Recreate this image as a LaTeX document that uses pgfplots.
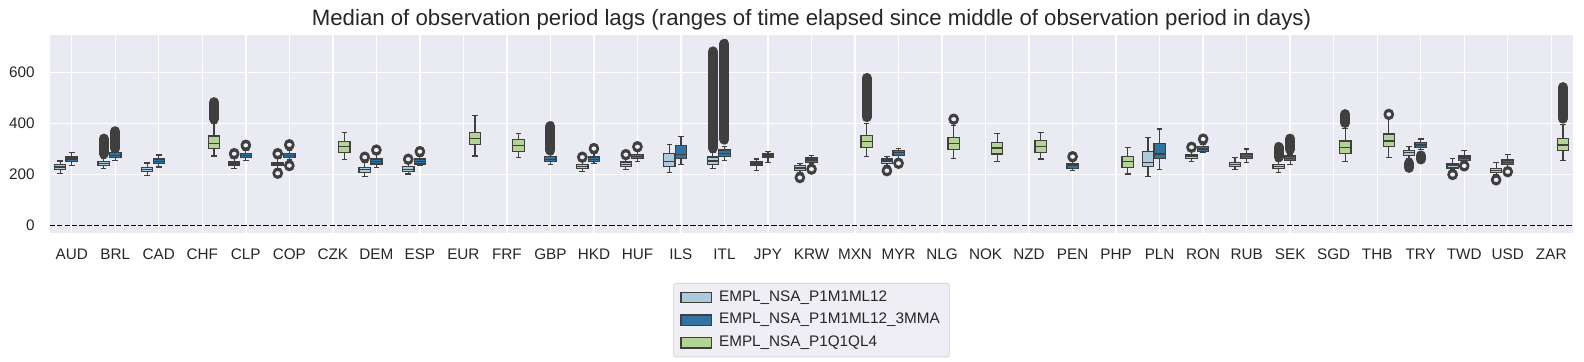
\documentclass[border=0pt]{standalone}
\usepackage{pgfplots}
\pgfplotsset{compat=1.18}
\usepackage{fontspec}
\setmainfont{Liberation Sans}
\definecolor{bgc}{HTML}{EAEAF2}
\definecolor{lgc}{HTML}{EEEEF4}
\definecolor{txt}{HTML}{262626}
\definecolor{bline}{HTML}{3F3F3F}
\definecolor{cL}{HTML}{ABCADB}
\definecolor{cD}{HTML}{3274A1}
\definecolor{cG}{HTML}{B3D495}
\pgfplotsset{bxl/.style={forget plot, draw=bline, line width=0.9pt}}
% box: position, colour, lower whisker, Q1, median, Q3, upper whisker
\newcommand{\bp}[7]{%
  \pgfmathsetmacro\xa{#1-0.13}\pgfmathsetmacro\xb{#1+0.13}%
  \pgfmathsetmacro\ca{#1-0.065}\pgfmathsetmacro\cb{#1+0.065}%
  \addplot[bxl] coordinates {(#1,#3) (#1,#4)};
  \addplot[bxl] coordinates {(#1,#6) (#1,#7)};
  \addplot[bxl] coordinates {(\ca,#3) (\cb,#3)};
  \addplot[bxl] coordinates {(\ca,#7) (\cb,#7)};
  \addplot[bxl, fill=#2] coordinates {(\xa,#4) (\xb,#4) (\xb,#6) (\xa,#6)} -- cycle;
  \addplot[bxl] coordinates {(\xa,#5) (\xb,#5)};
}
% dense run of outliers: position, lowest, highest
\newcommand{\blob}[3]{\addplot[forget plot, draw=bline, line width=7.2pt, line cap=round]
  coordinates {(#1,#2) (#1,#3)};}
\begin{document}
\begin{tikzpicture}
\path[use as bounding box] (-36pt,-93.1pt) rectangle (1104.5pt,167.5pt);
\begin{axis}[
  scale only axis, width=1096.6pt, height=142.6pt,
  xmin=-0.5, xmax=34.5, ymin=-29, ymax=748,
  axis background/.style={fill=bgc},
  axis line style={draw=none},
  major tick length=0pt,
  xtick={0,...,34},
  xticklabels={AUD,BRL,CAD,CHF,CLP,COP,CZK,DEM,ESP,EUR,FRF,GBP,HKD,HUF,ILS,ITL,JPY,KRW,MXN,MYR,NLG,NOK,NZD,PEN,PHP,PLN,RON,RUB,SEK,SGD,THB,TRY,TWD,USD,ZAR},
  ytick={0,200,400,600},
  grid=major, major grid style={white, line width=1pt},
  /pgf/number format/assume math mode=true,
  tick label style={font=\fontsize{11}{13}\selectfont, text=txt},
  xticklabel style={anchor=base, inner sep=0pt, yshift=-19.2pt},
  yticklabel style={anchor=east, inner sep=0pt, xshift=-10.8pt},
  every axis title shift=0pt,
  title={Median of observation period lags (ranges of time elapsed since middle of observation period in days)},
  title style={font=\fontsize{16}{19}\selectfont, text=txt, at={(0.5,1)}, anchor=base, yshift=6.3pt, inner sep=0pt},
  legend style={at={(0.5,-0.254)}, anchor=north, draw=black!20, fill=lgc, rounded corners=2pt,
    font=\fontsize{11}{13}\selectfont, text=txt, inner xsep=5pt, inner ysep=3pt, row sep=1.8pt,
    column sep=3pt, nodes={text height=8pt, text depth=2.5pt}},
  legend cell align=left,
  legend image code/.code={\draw[#1, sharp corners] (0pt,-3.7pt) rectangle (22pt,3.7pt);},
]
\addplot[forget plot, black, line width=1pt, dash pattern=on 3.7pt off 1.6pt] coordinates {(-0.5,0) (34.5,0)};

% EMPL_NSA_P1M1ML12 (light, offset -0.267)
\bp{-0.267}{cL}{204}{218}{229}{238}{252}
\bp{0.733}{cL}{223}{234}{243}{251}{262}
\bp{1.733}{cL}{195}{210}{218}{227}{244}
\bp{3.733}{cL}{222}{233}{240}{248}{262}
\bp{4.733}{cL}{222}{233}{240}{247}{263}
\bp{6.733}{cL}{191}{208}{218}{227}{247}
\bp{7.733}{cL}{201}{210}{220}{230}{245}
\bp{11.733}{cL}{212}{222}{230}{237}{252}
\bp{12.733}{cL}{220}{230}{239}{248}{262}
\bp{13.733}{cL}{208}{230}{250}{282}{318}
\bp{14.733}{cL}{223}{238}{252}{268}{285}
\bp{15.733}{cL}{216}{233}{240}{248}{260}
\bp{16.733}{cL}{206}{216}{225}{233}{243}
\bp{18.733}{cL}{232}{243}{252}{260}{271}
\bp{24.733}{cL}{190}{231}{247}{290}{345}
\bp{25.733}{cL}{251}{261}{269}{276}{290}
\bp{26.733}{cL}{220}{230}{239}{247}{267}
\bp{27.733}{cL}{207}{222}{231}{239}{252}
\bp{30.733}{cL}{262}{274}{285}{294}{310}
\bp{31.733}{cL}{217}{225}{233}{240}{263}
\bp{32.733}{cL}{197}{207}{216}{224}{246}

% EMPL_NSA_P1M1ML12_3MMA (dark, offset 0)
\bp{0}{cD}{235}{251}{260}{268}{284}
\bp{1}{cD}{254}{267}{274}{285}{296}
\bp{2}{cD}{229}{242}{251}{260}{276}
\bp{4}{cD}{255}{267}{274}{281}{293}
\bp{5}{cD}{256}{267}{273}{282}{293}
\bp{7}{cD}{226}{240}{251}{260}{278}
\bp{8}{cD}{235}{240}{251}{260}{272}
\bp{11}{cD}{239}{250}{259}{269}{280}
\bp{12}{cD}{243}{251}{259}{268}{282}
\bp{13}{cD}{251}{261}{270}{278}{290}
\bp{14}{cD}{238}{261}{278}{314}{349}
\bp{15}{cD}{255}{269}{282}{295}{310}
\bp{16}{cD}{247}{265}{272}{280}{290}
\bp{17}{cD}{241}{247}{256}{264}{274}
\bp{19}{cD}{262}{273}{284}{293}{302}
\bp{23}{cD}{216}{224}{233}{240}{250}
\bp{25}{cD}{220}{263}{280}{322}{378}
\bp{26}{cD}{284}{290}{299}{308}{318}
\bp{27}{cD}{247}{261}{271}{280}{299}
\bp{28}{cD}{239}{254}{263}{272}{280}
\bp{31}{cD}{297}{306}{315}{325}{338}
\bp{32}{cD}{247}{255}{264}{272}{294}
\bp{33}{cD}{228}{237}{247}{256}{278}

% EMPL_NSA_P1Q1QL4 (green, offset +0.267)
\bp{3.267}{cG}{272}{302}{321}{350}{400}
\bp{6.267}{cG}{259}{286}{308}{328}{365}
\bp{9.267}{cG}{272}{316}{341}{365}{431}
\bp{10.267}{cG}{267}{289}{314}{337}{361}
\bp{18.267}{cG}{271}{306}{328}{353}{400}
\bp{20.267}{cG}{263}{298}{322}{345}{390}
\bp{21.267}{cG}{251}{280}{303}{325}{361}
\bp{22.267}{cG}{260}{286}{310}{333}{365}
\bp{24.267}{cG}{201}{227}{250}{271}{306}
\bp{29.267}{cG}{250}{281}{306}{331}{380}
\bp{30.267}{cG}{267}{308}{331}{358}{420}
\bp{34.267}{cG}{255}{293}{315}{341}{395}

% dense runs of outliers
\blob{0.733}{280}{340}
\blob{1}{301}{369}
\blob{3.267}{417}{483}
\blob{11}{293}{389}
\blob{14.733}{303}{682}
\blob{15}{336}{712}
\blob{18.267}{424}{578}
\blob{27.733}{267}{307}
\blob{28}{297}{340}
\blob{29.267}{401}{436}
\blob{30.733}{225}{244}
\blob{31}{258}{274}
\blob{34.267}{418}{542}

% isolated outliers
\addplot[forget plot, only marks, mark=o, mark size=2.9pt, mark options={draw=bline, line width=1.6pt}] coordinates {
 (3.733,278) (3.733,283) (4,311) (4,316)
 (4.733,278) (4.733,283) (4.733,202) (4.733,206) (5,313) (5,318) (5,232) (5,236)
 (6.733,265) (6.733,269) (7,293) (7,297) (7.733,257) (7.733,261) (8,287) (8,291)
 (11.733,265) (11.733,269) (12,299) (12,303) (12.733,275) (12.733,279) (13,306) (13,310)
 (16.733,185) (16.733,189) (17,218) (17,222) (18.733,212) (18.733,216) (19,241) (19,245)
 (20.267,414) (20.267,418) (23,267) (23,271)
 (25.733,304) (25.733,308) (26,336) (26,340) (30.267,433) (30.267,437)
 (31.733,197) (31.733,201) (32,231) (32,235) (32.733,176) (32.733,180) (33,208) (33,212)
};

\addlegendimage{draw=bline, line width=0.9pt, fill=cL}
\addlegendentry{EMPL\_NSA\_P1M1ML12}
\addlegendimage{draw=bline, line width=0.9pt, fill=cD}
\addlegendentry{EMPL\_NSA\_P1M1ML12\_3MMA}
\addlegendimage{draw=bline, line width=0.9pt, fill=cG}
\addlegendentry{EMPL\_NSA\_P1Q1QL4}
\end{axis}
\end{tikzpicture}
\end{document}
